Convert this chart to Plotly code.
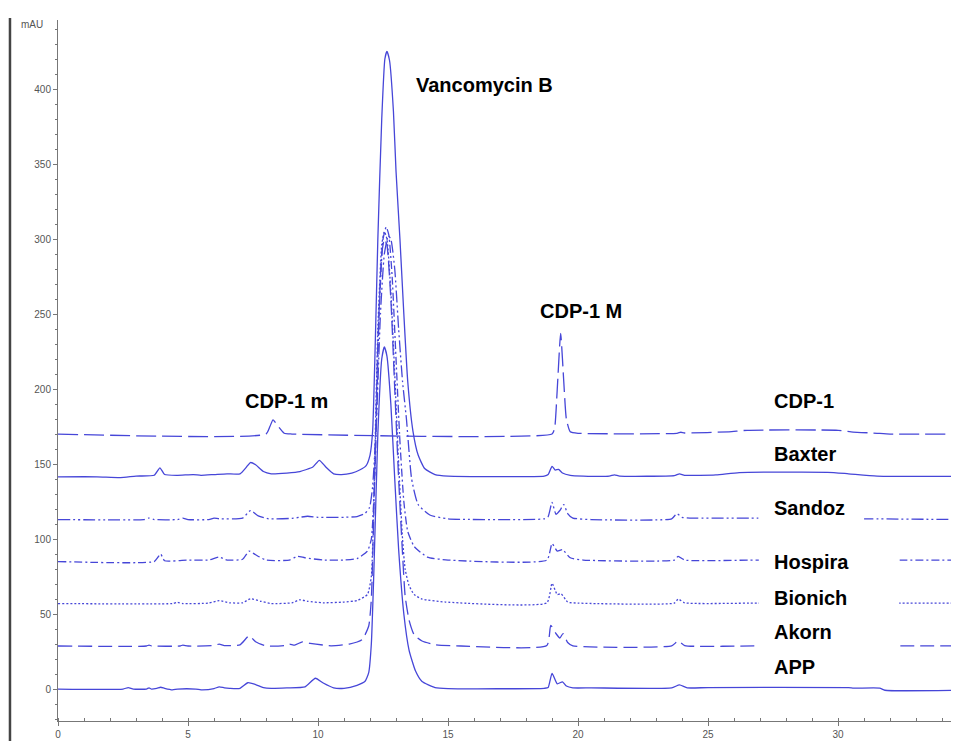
import plotly.graph_objects as go

# ---- data: (time [min], absorbance [mAU]) ----
CDP1 = [(0, 170), (8.0, 170), (8.15, 175), (8.27, 179.5), (8.45, 175.5), (8.7, 170.5), (9.0, 170),
        (19.0, 170), (19.1, 174), (19.2, 200), (19.33, 237), (19.45, 205), (19.55, 180), (19.7, 171.5),
        (20.0, 170.5), (23.8, 170.5), (23.95, 171.2), (24.1, 170.7), (25.8, 171.5), (26.5, 172.5),
        (30.0, 172.5), (30.5, 171.5), (31.5, 170.5), (32.0, 170), (34.7, 170)]

BAXTER = [(0, 141.5), (1.5, 141.5), (2.4, 141), (3.0, 142), (3.7, 142.5), (3.92, 147.5), (4.1, 143),
          (4.6, 142.5), (5.2, 143), (5.5, 142.5), (6.0, 143), (6.5, 143.5), (7.0, 143.5), (7.25, 148),
          (7.4, 151), (7.6, 149.5), (7.9, 145), (8.2, 143.5), (8.8, 144), (9.3, 145), (9.8, 148),
          (10.05, 152.5), (10.3, 148), (10.6, 143.5), (10.9, 143), (11.3, 144), (11.6, 146), (11.85, 149),
          (12.0, 156), (12.1, 172), (12.2, 230), (12.3, 300), (12.45, 380), (12.57, 420), (12.65, 425),
          (12.75, 419), (12.9, 385), (13.0, 345), (13.15, 300), (13.3, 250), (13.45, 205), (13.65, 172),
          (13.85, 156), (14.1, 147), (14.5, 143), (15.0, 142), (18.7, 142), (18.85, 143), (19.0, 148.5),
          (19.12, 146), (19.25, 146.5), (19.4, 144), (19.7, 142.5), (20.2, 142), (21.2, 142), (21.4, 142.8),
          (21.6, 142), (23.7, 142.3), (23.9, 143.5), (24.1, 142.5), (25.3, 142.8), (26.2, 144.3),
          (29.6, 144.5), (30.4, 143.5), (31.5, 142), (34.7, 141.8)]

SANDOZ = [(0, 113), (3.3, 113), (3.5, 114), (3.7, 113), (4.6, 113), (4.8, 114), (5.0, 113), (5.8, 113),
          (6.0, 114), (6.2, 113.5), (7.1, 114), (7.4, 119), (7.7, 115.5), (8.1, 113.5), (9.0, 113.8),
          (9.3, 114.5), (9.6, 115.2), (10.0, 114.5), (11.0, 114.5), (11.5, 115), (11.8, 117), (11.98, 121),
          (12.1, 135), (12.25, 180), (12.4, 250), (12.55, 290), (12.7, 302), (12.8, 300), (12.95, 280),
          (13.1, 240), (13.25, 205), (13.4, 180), (13.6, 140), (13.85, 123), (14.3, 116), (15.0, 113.5),
          (18.7, 113.5), (18.85, 115), (19.0, 124.5), (19.15, 116.5), (19.3, 119), (19.45, 123),
          (19.6, 117), (19.8, 114), (20.5, 113), (23.6, 113.5), (23.8, 117), (24.0, 114.5), (24.3, 114),
          (26.9, 114), (31.0, 113.5), (34.7, 113)]

HOSPIRA = [(0, 85), (3.7, 85), (3.85, 88), (3.95, 90), (4.1, 85.5), (5.0, 86), (5.8, 86), (6.2, 88),
           (6.5, 86), (7.1, 86.5), (7.35, 92), (7.6, 89.5), (8.0, 86), (8.9, 86), (9.2, 88.5), (9.5, 87.5),
           (10.2, 86), (11.0, 86), (11.5, 87), (11.9, 92), (12.05, 100), (12.2, 150), (12.35, 250),
           (12.5, 300), (12.62, 308), (12.72, 303), (12.85, 275), (13.0, 220), (13.15, 165), (13.3, 125),
           (13.45, 105), (13.7, 95), (14.2, 88), (15.0, 86), (18.8, 86), (19.0, 97), (19.2, 92),
           (19.4, 93), (19.7, 87.5), (20.2, 86), (23.7, 86), (23.85, 88.5), (24.1, 86), (26.9, 86),
           (32.4, 86), (34.7, 86)]

BIONICH = [(0, 57), (4.4, 57), (4.6, 57.8), (4.8, 57), (5.8, 57.3), (6.2, 59), (6.6, 57.5), (7.1, 57.5),
           (7.4, 60.2), (7.8, 58.5), (8.2, 57), (9.0, 57.5), (9.3, 59.5), (9.6, 58.5), (10.2, 57.5),
           (11.0, 58), (11.5, 59), (11.9, 63), (12.05, 75), (12.15, 130), (12.3, 240), (12.45, 296),
           (12.55, 305), (12.65, 300), (12.8, 265), (12.95, 210), (13.1, 150), (13.25, 100), (13.35, 80),
           (13.5, 69), (13.7, 63), (14.0, 60), (14.9, 58), (18.8, 57.5), (19.0, 70.5), (19.2, 63),
           (19.35, 63.5), (19.6, 58), (20.0, 57.3), (23.7, 57.3), (23.85, 60), (24.1, 57.5),
           (26.9, 57.3), (32.4, 57.3), (34.7, 57.3)]

AKORN = [(0, 28.7), (3.4, 28.7), (3.5, 29.3), (3.6, 28.7), (4.7, 28.7), (4.8, 29.3), (5.0, 28.7),
         (6.0, 29), (6.2, 30), (6.4, 29), (7.0, 29.5), (7.35, 35.5), (7.6, 31.5), (8.0, 28.7), (8.7, 29),
         (8.9, 30), (9.1, 29.3), (9.4, 31.5), (9.7, 30.5), (10.5, 28.8), (11.2, 30), (11.7, 33),
         (11.95, 42), (12.05, 60), (12.15, 120), (12.3, 230), (12.45, 290), (12.55, 300), (12.65, 296),
         (12.8, 260), (12.95, 200), (13.1, 140), (13.25, 90), (13.35, 62), (13.5, 46), (13.7, 36),
         (14.0, 32), (14.5, 29.5), (15.5, 28.7), (18.8, 29), (18.95, 42.5), (19.15, 37), (19.3, 34),
         (19.42, 37), (19.6, 31), (19.8, 28.8), (23.6, 28.8), (23.85, 32), (24.1, 29), (26.9, 28.8),
         (32.4, 28.8), (34.7, 28.8)]

APP = [(0, 0), (2.5, 0), (2.7, 1), (2.9, 0), (3.4, 0), (3.5, 0.8), (3.6, 0), (3.8, 0.5), (3.95, 1.2),
       (4.1, 0.5), (4.4, -0.5), (4.6, 0), (5.3, 0), (5.5, -0.5), (6.0, 0.3), (6.2, 1.5), (6.4, 0.8),
       (6.6, 0.5), (7.0, 0.5), (7.3, 4.2), (7.6, 3), (7.9, 1), (8.2, 0.5), (8.8, 0.8), (9.5, 1.5),
       (9.9, 7.2), (10.2, 4), (10.6, 0.8), (11.0, 0.5), (11.5, 2.5), (11.8, 5), (11.95, 11), (12.05, 30),
       (12.15, 80), (12.3, 170), (12.45, 220), (12.55, 228), (12.65, 222), (12.8, 190), (12.95, 140),
       (13.1, 93), (13.3, 50), (13.5, 26), (13.75, 12), (14.0, 5), (14.5, 1), (15.0, 0.3), (18.7, 0.5),
       (18.85, 1), (19.0, 10.5), (19.2, 3.5), (19.4, 4.8), (19.55, 2), (19.8, 0.8), (20.5, 0.8),
       (23.6, 0.8), (23.9, 2.8), (24.2, 0.8), (25.0, 1), (30.4, 1), (30.6, 0.6), (31.6, 0.6),
       (31.8, -0.8), (34.7, -0.8)]

TRACE_NAMES = ["CDP-1", "Baxter", "Sandoz", "Hospira", "Bionich", "Akorn", "APP"]
TRACES = [CDP1, BAXTER, SANDOZ, HOSPIRA, BIONICH, AKORN, APP]

PEAK_LABELS = ["Vancomycin B", "CDP-1 m", "CDP-1 M"]
PEAK_LABEL_POS = [(16.42, 403), (8.77, 192), (20.13, 252)]
TRACE_LABEL_Y = [192, 157, 121, 85, 61, 38, 15]

X_TICKS = [0, 5, 10, 15, 20, 25, 30]
Y_TICKS = [0, 50, 100, 150, 200, 250, 300, 350, 400]

# ---- styles ----
BLUE = "#4646d8"
DASHES = {
    "CDP-1": "20px,6px",
    "Baxter": "solid",
    "Sandoz": "12px,3px,2px,3px,2px,3px",
    "Hospira": "8px,3px,2px,3px",
    "Bionich": "2px,2px",
    "Akorn": "14px,6px",
    "APP": "solid",
}
# label gaps (x-start, x-end, y-center) for the interrupted traces
GAPS = {"Sandoz": (26.95, 31.0, 113), "Hospira": (26.95, 32.35, 86),
        "Bionich": (26.95, 32.35, 57.3), "Akorn": (26.95, 32.35, 28.8)}

fig = go.Figure()
for name, pts in zip(TRACE_NAMES, TRACES):
    xs = [p[0] for p in pts]
    ys = [p[1] for p in pts]
    fig.add_trace(go.Scatter(
        x=xs, y=ys, mode="lines", name=name,
        line=dict(color=BLUE, width=1.3, dash=DASHES[name], shape="spline", smoothing=0.5),
        hoverinfo="skip", showlegend=False))

shapes = []
for name, (x0, x1, yc) in GAPS.items():
    shapes.append(dict(type="rect", xref="x", yref="y", x0=x0, x1=x1, y0=yc - 7, y1=yc + 7,
                       fillcolor="white", line=dict(width=0), layer="above"))
# outer left frame line of the original picture
shapes.append(dict(type="line", xref="paper", yref="paper", x0=-0.0533, x1=-0.0533,
                   y0=-0.03, y1=1.003, line=dict(color="#444444", width=2.5)))

annotations = []
bold = dict(family="Liberation Sans, Arial, sans-serif", size=20, color="black", weight="bold")
for txt, (x, y) in zip(PEAK_LABELS, PEAK_LABEL_POS):
    annotations.append(dict(x=x, y=y, xref="x", yref="y", text=txt, showarrow=False,
                            xanchor="center", yanchor="middle", font=bold))
for txt, y in zip(TRACE_NAMES, TRACE_LABEL_Y):
    annotations.append(dict(x=27.46, y=y, xref="x", yref="y", text=txt, showarrow=False,
                            xanchor="left", yanchor="middle", font=bold))
small = dict(family="Liberation Sans, Arial, sans-serif", size=10, color="#555555")
annotations.append(dict(x=-0.014, y=1.004, xref="paper", yref="paper", text="mAU", showarrow=False,
                        xanchor="right", yanchor="top", font=small))
annotations.append(dict(x=0.9945, y=-0.012, xref="paper", yref="paper", text="min", showarrow=False,
                        xanchor="left", yanchor="top", font=small))

# the page body has an 8 px margin, so the figure is sized to end at the window edge
fig.update_layout(
    width=951, height=733,
    margin=dict(l=50, r=0, t=12, b=20, autoexpand=False),
    paper_bgcolor="white", plot_bgcolor="white",
    shapes=shapes, annotations=annotations,
    xaxis=dict(range=[0, 34.65], tickvals=X_TICKS, ticktext=[str(v) for v in X_TICKS],
               showgrid=False, zeroline=False, showline=True, linecolor="#777777", linewidth=1,
               ticks="outside", ticklen=4, tickcolor="#777777", automargin=False,
               minor=dict(dtick=1, ticks="inside", ticklen=3, tickcolor="#777777"),
               tickfont=small),
    yaxis=dict(range=[-21.3, 446], tickvals=Y_TICKS, ticktext=[str(v) for v in Y_TICKS],
               showgrid=False, zeroline=False, showline=True, linecolor="#777777", linewidth=1,
               ticks="outside", ticklen=4, tickcolor="#777777", automargin=False,
               minor=dict(dtick=10, ticks="outside", ticklen=2, tickcolor="#777777"),
               tickfont=small),
)

fig.write_html("out.html")
